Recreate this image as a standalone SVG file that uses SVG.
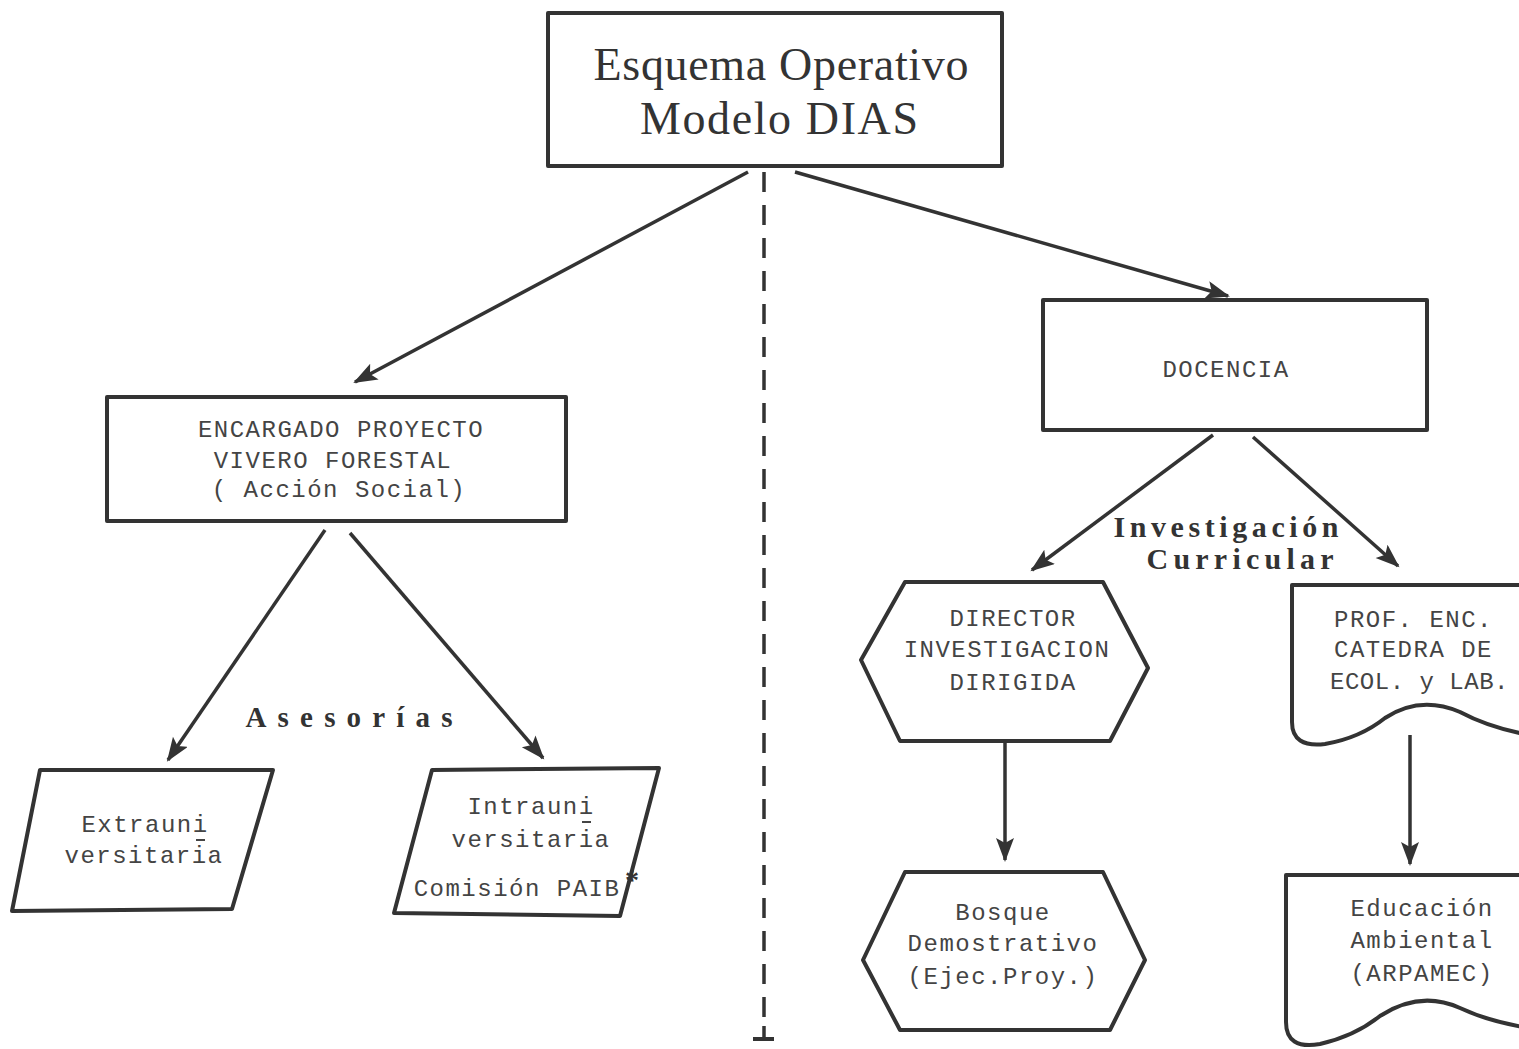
<svg xmlns="http://www.w3.org/2000/svg" width="1519" height="1049" viewBox="0 0 1519 1049">
<style>
.box{fill:#fff;stroke:#333;stroke-width:4;stroke-linejoin:round}
.mono{font-family:"Liberation Mono","DejaVu Sans Mono",monospace;font-size:24px;fill:#444;text-anchor:middle;letter-spacing:1.5px}
.left{text-anchor:start}
.serif{font-family:"Liberation Serif","DejaVu Serif",serif;fill:#333;text-anchor:middle}
.conn{stroke:#333;stroke-width:3.5;fill:none}
</style>
<defs>
<marker id="ah" markerUnits="userSpaceOnUse" markerWidth="26" markerHeight="20" refX="22" refY="9" orient="auto">
<path d="M0,0 L24,9 L0,18 L5,9 Z" fill="#333"/>
</marker>
</defs>
<rect width="1519" height="1049" fill="#fff"/>

<g id="connectors">
<line class="conn" x1="748" y1="172" x2="355" y2="382" marker-end="url(#ah)"/>
<line class="conn" x1="795" y1="172" x2="1228" y2="296" marker-end="url(#ah)"/>
<line class="conn" x1="325" y1="530" x2="168" y2="760" marker-end="url(#ah)"/>
<line class="conn" x1="350" y1="533" x2="543" y2="758" marker-end="url(#ah)"/>
<line class="conn" x1="1213" y1="435" x2="1032" y2="570" marker-end="url(#ah)"/>
<line class="conn" x1="1253" y1="437" x2="1398" y2="566" marker-end="url(#ah)"/>
<line class="conn" x1="1005" y1="742" x2="1005" y2="860" marker-end="url(#ah)"/>
<line class="conn" x1="1410" y1="735" x2="1410" y2="864" marker-end="url(#ah)"/>
<line x1="764" y1="172" x2="764" y2="1020" stroke="#333" stroke-width="3.5" stroke-dasharray="20 13"/>
<line x1="764" y1="1026" x2="764" y2="1039" stroke="#333" stroke-width="3.5"/>
<line x1="753" y1="1039" x2="774" y2="1039" stroke="#333" stroke-width="4"/>
</g>

<g id="title">
<rect class="box" x="548" y="13" width="454" height="153"/>
<text class="serif" x="781" y="80" font-size="46" textLength="375" lengthAdjust="spacing">Esquema Operativo</text>
<text class="serif" x="779" y="134" font-size="46" textLength="278" lengthAdjust="spacing">Modelo DIAS</text>
</g>

<g id="encargado">
<rect class="box" x="107" y="397" width="459" height="124"/>
<text class="mono" x="341" y="437">ENCARGADO PROYECTO</text>
<text class="mono" x="333" y="468">VIVERO  FORESTAL</text>
<text class="mono" x="339" y="497">( Acción Social)</text>
</g>

<text id="asesorias" class="serif" x="349" y="727" font-size="29" font-weight="bold" fill="#444" textLength="207" lengthAdjust="spacing">Asesorías</text>

<g id="extrauni">
<polygon class="box" points="40,770 273,770 232,909 12,911"/>
<text class="mono" x="145" y="832">Extrauni</text>
<line x1="196" y1="840" x2="205" y2="840" stroke="#444" stroke-width="2"/>
<text class="mono" x="144" y="863">versitaria</text>
</g>

<g id="intrauni">
<polygon class="box" points="432,770 659,768 620,916 394,913"/>
<text class="mono" x="531" y="814">Intrauni</text>
<line x1="582" y1="822" x2="591" y2="822" stroke="#444" stroke-width="2"/>
<text class="mono" x="531" y="847">versitaria</text>
<text class="mono" x="517" y="896">Comisión PAIB</text>
<text class="serif" x="632" y="889" font-size="28" font-weight="bold">*</text>
</g>

<g id="docencia">
<rect class="box" x="1043" y="300" width="384" height="130"/>
<text class="mono" x="1226" y="377">DOCENCIA</text>
</g>

<g id="investigacion-label">
<text class="serif" x="1226" y="537" font-size="30" font-weight="bold" fill="#444" textLength="225" lengthAdjust="spacing">Investigación</text>
<text class="serif" x="1240" y="569" font-size="30" font-weight="bold" fill="#444" textLength="187" lengthAdjust="spacing">Curricular</text>
</g>

<g id="director">
<polygon class="box" points="905,582 1103,582 1148,668 1110,741 900,741 861,660"/>
<text class="mono" x="1013" y="626">DIRECTOR</text>
<text class="mono" x="1007" y="657">INVESTIGACION</text>
<text class="mono" x="1013" y="690">DIRIGIDA</text>
</g>

<g id="bosque">
<polygon class="box" points="905,872 1103,872 1145,960 1110,1030 900,1030 863,960"/>
<text class="mono" x="1003" y="920">Bosque</text>
<text class="mono" x="1003" y="951">Demostrativo</text>
<text class="mono" x="1003" y="984">(Ejec.Proy.)</text>
</g>

<g id="prof">
<path class="box" d="M1530,585 L1292,585 L1292,722 Q1292,748 1325,744 Q1360,738 1385,718 Q1420,695 1460,712 Q1490,728 1530,735"/>
<text class="mono left" x="1334" y="627">PROF. ENC.</text>
<text class="mono left" x="1334" y="657">CATEDRA DE</text>
<text class="mono left" x="1330" y="689" letter-spacing="0.5" textLength="180" lengthAdjust="spacing">ECOL. y LAB.</text>
</g>

<g id="educacion">
<path class="box" d="M1530,875 L1286,875 L1286,1022 Q1286,1050 1320,1044 Q1355,1036 1380,1016 Q1420,990 1460,1008 Q1490,1022 1530,1028"/>
<text class="mono" x="1422" y="916">Educación</text>
<text class="mono" x="1422" y="948">Ambiental</text>
<text class="mono" x="1422" y="981">(ARPAMEC)</text>
</g>
</svg>
